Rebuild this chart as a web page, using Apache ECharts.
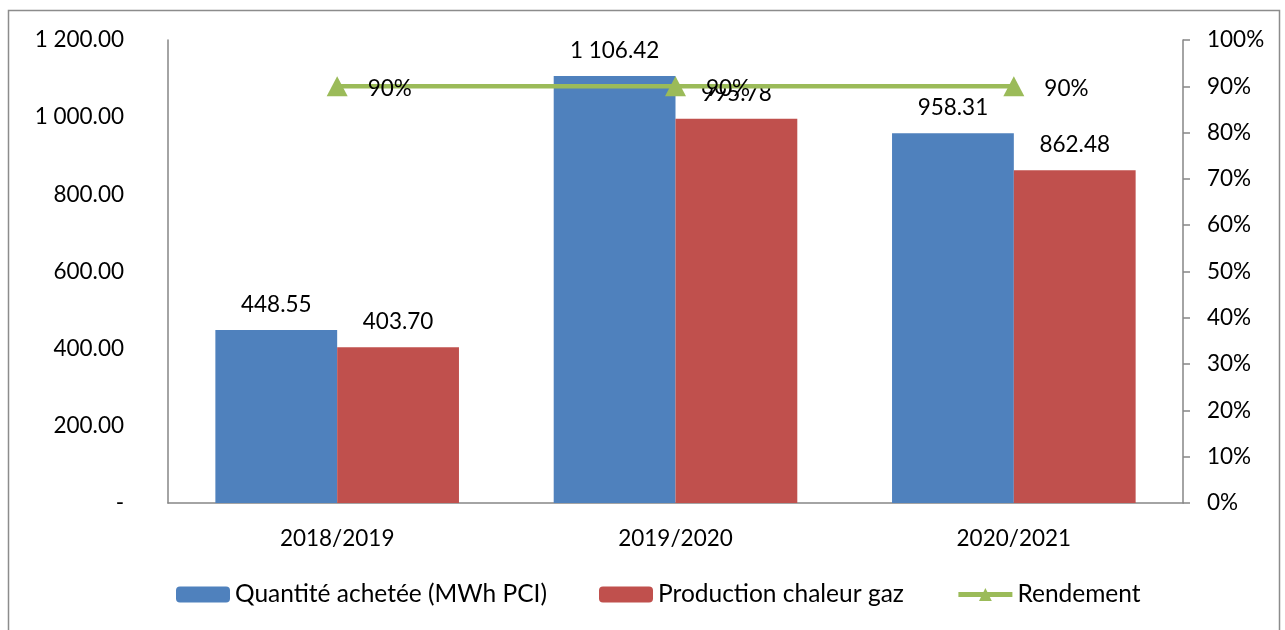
<!DOCTYPE html>
<html>
<head>
<meta charset="utf-8">
<script src="https://cdn.jsdelivr.net/npm/echarts@6/dist/echarts.min.js"></script>
<style>
html,body{margin:0;padding:0;background:#fff;}
#c{width:1285px;height:630px;}
</style>
</head>
<body>
<div id="c"></div>
<script>
const categories = ['2018/2019', '2019/2020', '2020/2021'];
const quantite = [448.55, 1106.42, 958.31];
const production = [403.70, 995.78, 862.48];
const rendement = [90, 90, 90];
const seriesNames = ['Quantité achetée (MWh PCI)', 'Production chaleur gaz', 'Rendement'];

function fmtNum(v) {
  if (v === 0) return '-';
  const s = v.toFixed(2);
  const parts = s.split('.');
  parts[0] = parts[0].replace(/\B(?=(\d{3})+(?!\d))/g, ' ');
  return parts.join('.');
}

const FONT = 'Lato';
const FS = 22.5;
const chart = echarts.init(document.getElementById('c'));
chart.setOption({
  animation: false,
  textStyle: { fontFamily: FONT },
  graphic: [{
    type: 'rect',
    shape: { x: 8.5, y: 10.5, width: 1271, height: 640 },
    style: { fill: 'none', stroke: '#8c8c8c', lineWidth: 1.5 }
  }],
  grid: { left: 168, right: 102, top: 40, bottom: 127 },
  legend: {
    left: 171, top: 577,
    itemWidth: 54, itemHeight: 16, itemGap: 52,
    textStyle: { fontSize: 24.5, color: '#000', fontFamily: FONT },
    data: [
      { name: seriesNames[0] },
      { name: seriesNames[1] },
      { name: seriesNames[2], lineStyle: { width: 5, color: '#9BBB59' } }
    ]
  },
  xAxis: {
    type: 'category', data: categories,
    axisLine: { lineStyle: { color: '#868686', width: 1.5 } },
    axisTick: { show: false },
    axisLabel: { fontSize: FS, color: '#000', margin: 24, fontFamily: FONT }
  },
  yAxis: [{
    type: 'value', min: 0, max: 1200, interval: 200,
    axisLine: { show: true, lineStyle: { color: '#868686', width: 1.5 } },
    axisTick: { show: false },
    splitLine: { show: false },
    axisLabel: { fontSize: FS, color: '#000', margin: 44, formatter: fmtNum, fontFamily: FONT }
  }, {
    type: 'value', min: 0, max: 100, interval: 10, position: 'right',
    axisLine: { show: true, lineStyle: { color: '#868686', width: 1.5 } },
    axisTick: { show: true, length: 7, lineStyle: { color: '#868686', width: 1.5 } },
    splitLine: { show: false },
    axisLabel: { fontSize: FS, color: '#000', margin: 24, formatter: v => v + '%', fontFamily: FONT }
  }],
  series: [{
    name: seriesNames[0], type: 'bar', data: quantite,
    barGap: '0%', barCategoryGap: '28%',
    itemStyle: { color: '#4F81BD' },
    label: { show: true, position: 'top', distance: 14, fontSize: FS, color: '#000', formatter: p => fmtNum(p.value), fontFamily: FONT }
  }, {
    name: seriesNames[1], type: 'bar', data: production,
    itemStyle: { color: '#C0504D' },
    label: { show: true, position: 'top', distance: 14, fontSize: FS, color: '#000', formatter: p => fmtNum(p.value), fontFamily: FONT }
  }, {
    name: seriesNames[2], type: 'line', yAxisIndex: 1, data: rendement,
    symbol: 'triangle', symbolSize: [21, 20],
    lineStyle: { color: '#9BBB59', width: 4.5 },
    itemStyle: { color: '#9BBB59' },
    label: { show: true, position: 'right', distance: 20, fontSize: FS, color: '#000', offset: [0, 2], formatter: p => p.value + '%', fontFamily: FONT }
  }]
});
</script>
</body>
</html>
